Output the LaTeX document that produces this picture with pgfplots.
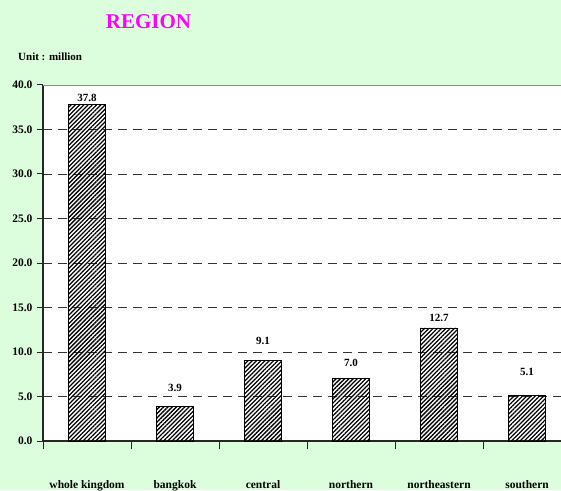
\documentclass[border=0pt]{standalone}
\usepackage{fontspec}
\setmainfont{Liberation Serif}
\usepackage{pgfplots}
\usepackage{pgfplotstable}
\pgfplotsset{compat=1.18}
\usetikzlibrary{patterns,patterns.meta}
\definecolor{bg}{RGB}{220,254,220}
\definecolor{mag}{RGB}{255,0,255}
\pgfplotstableread{
x y off
0 37.8 7
1 3.9 18
2 9.1 19
3 7.0 16
4 12.7 10
5 5.1 24
}\datatable
\begin{document}
\begin{tikzpicture}[x=1pt,y=1pt]
\fill[bg] (0,0) rectangle (561,490);
\begin{axis}[
  at={(43pt,49pt)}, anchor=south west,
  scale only axis, width=518pt, height=356pt,
  xmin=-0.5, xmax=5.386, ymin=0, ymax=40,
  axis background/.style={fill=white},
  axis x line=bottom, axis y line=left,
  axis line style={-, line width=1.2pt, black!85},
  tick align=outside,
  /pgf/number format/assume math mode=true,
  ytick={0,5,...,40},
  yticklabel={\pgfmathprintnumber[fixed,fixed zerofill,precision=1]{\tick}},
  yticklabel style={font=\bfseries\fontsize{11.5}{13}\selectfont, xshift=-1pt},
  ymajorgrids,
  grid style={black!80, line width=0.8pt, dash pattern=on 9pt off 6pt},
  major tick length=6pt,
  major tick style={black!85, line width=1pt},
  xtick={0,1,2,3,4,5},
  xticklabels={whole kingdom, bangkok, central, northern, northeastern, southern},
  xticklabel style={font=\bfseries\fontsize{11.5}{13}\selectfont, anchor=base, yshift=-41pt},
  major x tick style={draw=none},
  minor xtick={-0.5,0.5,1.5,2.5,3.5,4.5},
  minor tick length=8pt,
  minor x tick style={black!85, line width=1pt},
  ybar, bar width=37pt,
  clip=false,
]
\draw[black!45, line width=0.8pt] (rel axis cs:0,1) -- (rel axis cs:1,1);
\addplot[draw=black, line width=0.8pt, pattern={Lines[angle=45,distance=3pt,line width=1.3pt]},
  point meta=y,
  visualization depends on={\thisrow{off} \as \off},
  nodes near coords,
  nodes near coords style={font=\bfseries\fontsize{11}{13}\selectfont, anchor=center, yshift=\off, /pgf/number format/.cd, fixed, fixed zerofill, precision=1}]
  table[x=x, y=y] {\datatable};
\end{axis}
\node[font=\bfseries\fontsize{21}{24}\selectfont, text=mag] at (148.5,468) {REGION};
\node[anchor=west, font=\bfseries\fontsize{11}{13}\selectfont, inner sep=0pt] at (18,433) {Unit : million};
\pgfresetboundingbox
\path (0,0) rectangle (561,490);
\end{tikzpicture}
\end{document}
